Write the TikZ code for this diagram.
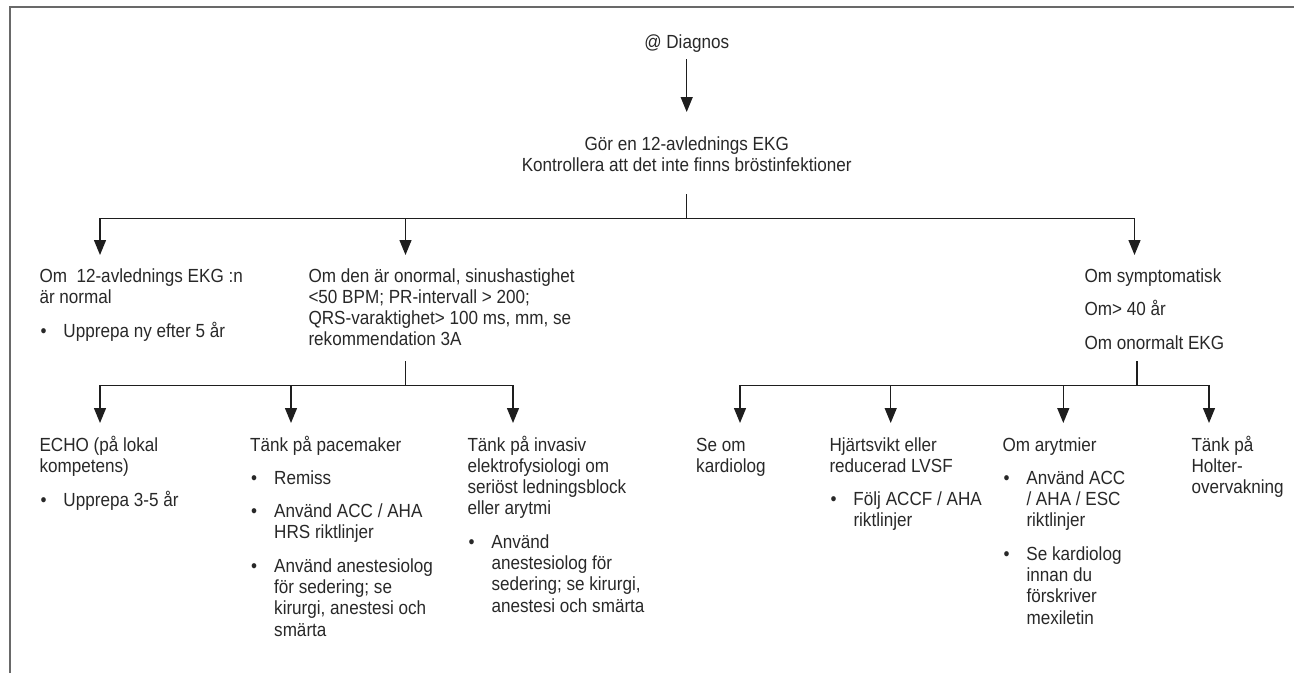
\documentclass[tikz,border=0pt]{standalone}
\usepackage{fontspec}
\setmainfont[FakeStretch=0.9]{Liberation Sans}
\usetikzlibrary{arrows.meta}
\definecolor{txt}{RGB}{40,40,40}
\definecolor{ln}{RGB}{30,30,30}
\definecolor{frm}{RGB}{105,105,105}
\newcommand{\bi}{\makebox[24pt][l]{\hspace{1pt}\textbullet}}
\newcommand{\ci}{\hspace*{24pt}}
\newcommand{\tbl}[1]{\begin{tabular}[t]{@{}l@{}}#1\end{tabular}}
\newcommand{\tbc}[1]{\begin{tabular}[t]{@{}c@{}}#1\end{tabular}}
\begin{document}
\begin{tikzpicture}[x=1pt,y=-1pt,
  txtnode/.style={anchor=base west, inner sep=0pt, text=txt, font=\fontsize{19}{21.3}\selectfont},
  ctr/.style={txtnode, anchor=base},
  conn/.style={draw=ln, line width=1.3pt, line cap=rect},
  arr/.style={conn, -{Triangle[length=15pt,width=12pt]}}]
\useasboundingbox (0,0) rectangle (1294,673);
\draw[frm, line width=2pt] (9.5,673) -- (9.5,6.7) -- (1294,6.7);

% top
\node[ctr] (diag) at (686.7,48) {@ Diagnos};
\node[ctr] (gor) at (686.7,150) {\tbc{Gör en 12-avlednings EKG\\Kontrollera att det inte finns bröstinfektioner}};

% level 1
\node[txtnode] (n1) at (39.3,282) {\tbl{Om\ \ 12-avlednings EKG :n\\är normal\\[12pt]\bi Upprepa ny efter 5 år}};
\node[txtnode] (n2) at (308.3,282) {\tbl{Om den är onormal, sinushastighet\\<50 BPM; PR-intervall > 200;\\QRS-varaktighet> 100 ms, mm, se\\rekommendation 3A}};
\node[txtnode] (n3) at (1084.3,282) {\tbl{Om symptomatisk\\[12pt]Om> 40 år\\[12pt]Om onormalt EKG}};

% level 2
\node[txtnode] (m1) at (39.3,451) {\tbl{ECHO (på lokal\\kompetens)\\[12pt]\bi Upprepa 3-5 år}};
\node[txtnode] (m2) at (250,451) {\tbl{Tänk på pacemaker\\[12pt]\bi Remiss\\[12pt]\bi Använd ACC / AHA\\\ci HRS riktlinjer\\[12pt]\bi Använd anestesiolog\\\ci för sedering; se\\\ci kirurgi, anestesi och\\\ci smärta}};
\node[txtnode] (m3) at (467.3,451) {\tbl{Tänk på invasiv\\elektrofysiologi om\\seriöst ledningsblock\\eller arytmi\\[12pt]\bi Använd\\\ci anestesiolog för\\\ci sedering; se kirurgi,\\\ci anestesi och smärta}};
\node[txtnode] (r1) at (696,451) {\tbl{Se om\\kardiolog}};
\node[txtnode] (r2) at (829.3,451) {\tbl{Hjärtsvikt eller\\reducerad LVSF\\[12pt]\bi Följ ACCF / AHA\\\ci riktlinjer}};
\node[txtnode] (r3) at (1002.3,451) {\tbl{Om arytmier\\[12pt]\bi Använd ACC\\\ci / AHA / ESC\\\ci riktlinjer\\[12pt]\bi Se kardiolog\\\ci innan du\\\ci förskriver\\\ci mexiletin}};
\node[txtnode] (r4) at (1191.3,451) {\tbl{Tänk på\\Holter-\\overvakning}};

% coordinates
\coordinate (a0s) at (686.7,60);
\coordinate (a0e) at (686.7,112);
\coordinate (s0) at (686.7,195);
\coordinate (b0) at (686.7,218.5);
\coordinate (b0L) at (100,218.5);
\coordinate (b0M) at (405.5,218.5);
\coordinate (b0R) at (1134.5,218.5);
\coordinate (s1) at (405.5,362);
\coordinate (b1) at (405.5,385.5);
\coordinate (b1a) at (100,385.5);
\coordinate (b1b) at (291,385.5);
\coordinate (b1c) at (513,385.5);
\coordinate (s2) at (1137,362);
\coordinate (b2) at (1137,385.5);
\coordinate (b2a) at (740,385.5);
\coordinate (b2b) at (890.7,385.5);
\coordinate (b2c) at (1063.3,385.5);
\coordinate (b2d) at (1209,385.5);

% connectors
\draw[arr] (a0s) -- (a0e);
\draw[conn] (s0) -- (b0);
\draw[conn] (b0L) -- (b0R);
\draw[arr] (b0L) -- (b0L |- 0,255);
\draw[arr] (b0M) -- (b0M |- 0,255);
\draw[arr] (b0R) -- (b0R |- 0,255);

\draw[conn] (s1) -- (b1);
\draw[conn] (b1a) -- (b1c);
\draw[arr] (b1a) -- (b1a |- 0,423);
\draw[arr] (b1b) -- (b1b |- 0,423);
\draw[arr] (b1c) -- (b1c |- 0,423);

\draw[conn] (s2) -- (b2);
\draw[conn] (b2a) -- (b2d);
\draw[arr] (b2a) -- (b2a |- 0,423);
\draw[arr] (b2b) -- (b2b |- 0,423);
\draw[arr] (b2c) -- (b2c |- 0,423);
\draw[arr] (b2d) -- (b2d |- 0,423);
\end{tikzpicture}
\end{document}
